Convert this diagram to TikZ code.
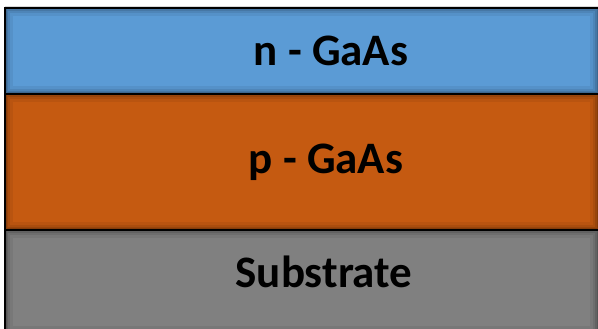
\documentclass[tikz,border=0pt]{standalone}
\usepackage{fontspec}
\setmainfont{Carlito}
\definecolor{layerblue}{HTML}{5B9BD5}
\definecolor{layerorange}{HTML}{C55A11}
\definecolor{layergray}{HTML}{808080}
\begin{document}
\begin{tikzpicture}[x=1pt,y=1pt,
  layer/.style={draw=black, line width=2pt, inner sep=0pt, outer sep=0pt},
  lbl/.style={font=\fontsize{45}{47}\selectfont\bfseries, text=black, inner sep=0pt}]
\useasboundingbox (0,0) rectangle (598,329);
\fill[white] (0,0) rectangle (598,329);
\draw[black!15, line width=1pt] (5,322) -- (598,322);
% layers
\foreach \ya/\yb/\c in {235/321/layerblue, 99/235/layerorange, -5/99/layergray}{
  \begin{scope}
    \clip (5,\ya) rectangle (598,\yb);
    \fill[\c] (5,\ya) rectangle (598,\yb);
    \foreach \w/\o in {16/0.06, 10/0.08, 6/0.1, 3/0.12}{
      \draw[black, opacity=\o, line width=\w pt] (5,\ya) rectangle (598,\yb);
    }
  \end{scope}
}
\draw[layer] (5,-5) -- (5,321) -- (598,321);
\draw[layer] (5,235) -- (598,235);
\draw[layer] (5,99) -- (598,99);
\node[lbl] (n) at (331,278) {n - GaAs};
\node[lbl] (p) at (326,167) {p - GaAs};
\node[lbl] (s) at (324,57) {Substrate};
\end{tikzpicture}
\end{document}
